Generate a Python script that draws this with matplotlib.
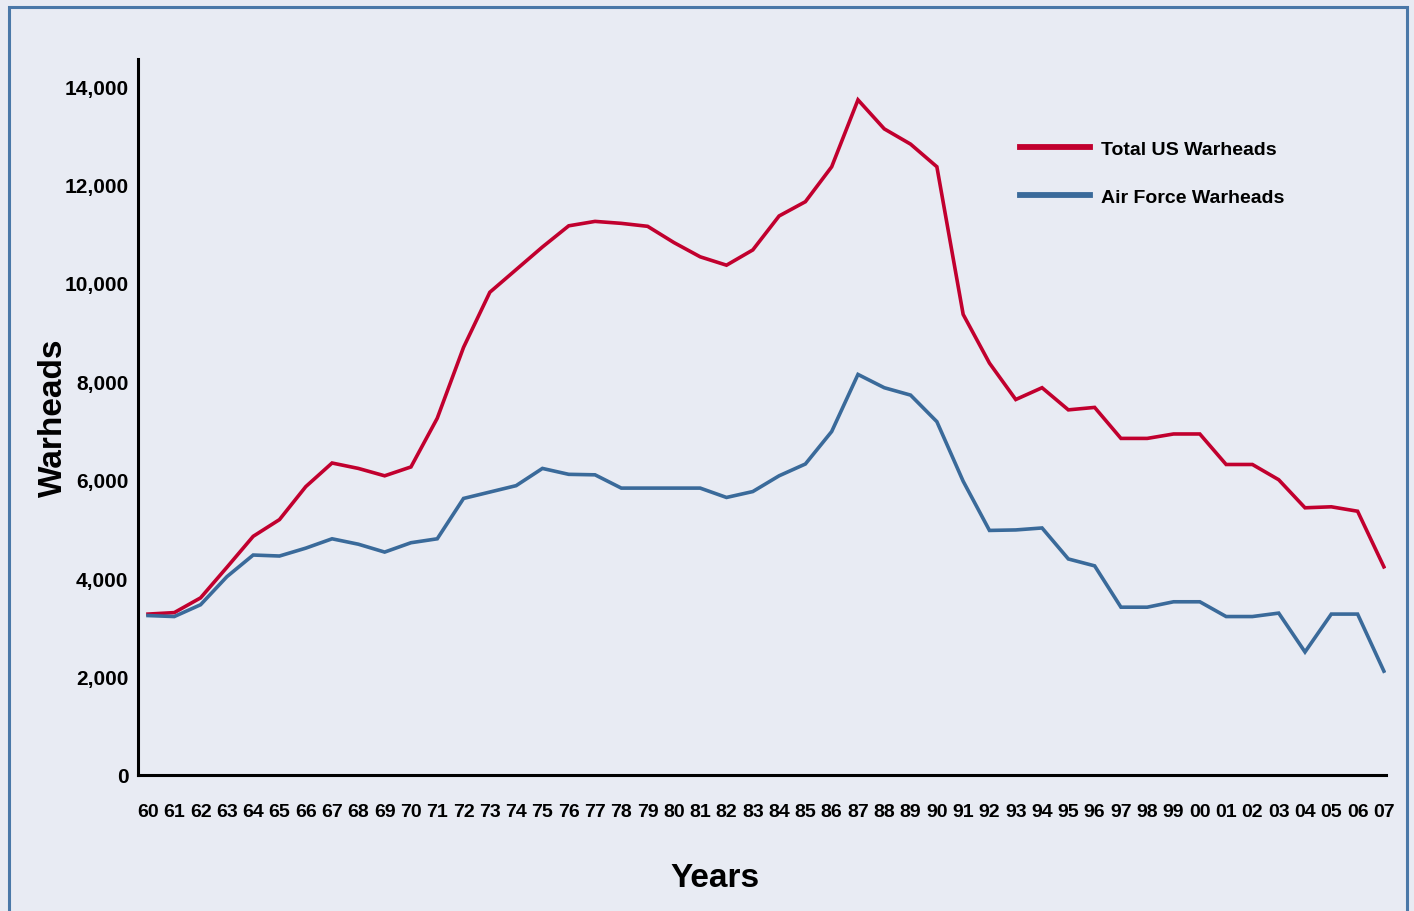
import numpy as np
import matplotlib.pyplot as plt
from matplotlib.patches import Rectangle

############ data ##################################################################

years = ['60', '61', '62', '63', '64', '65', '66', '67', '68', '69',
         '70', '71', '72', '73', '74', '75', '76', '77', '78', '79',
         '80', '81', '82', '83', '84', '85', '86', '87', '88', '89',
         '90', '91', '92', '93', '94', '95', '96', '97', '98', '99',
         '00', '01', '02', '03', '04', '05', '06', '07']

total_us = [3270, 3300, 3600, 4220, 4850, 5190, 5860, 6340, 6230, 6080,
            6260, 7250, 8690, 9810, 10270, 10730, 11160, 11250, 11210, 11150,
            10820, 10530, 10360, 10670, 11360, 11650, 12360, 13720, 13130, 12820,
            12360, 9360, 8370, 7630, 7870, 7420, 7470, 6840, 6840, 6930,
            6930, 6310, 6310, 6000, 5430, 5450, 5360, 4230]

air_force = [3240, 3220, 3460, 4030, 4470, 4450, 4610, 4800, 4690, 4530,
             4720, 4800, 5620, 5750, 5880, 6230, 6110, 6100, 5830, 5830,
             5830, 5830, 5640, 5760, 6080, 6320, 6980, 8140, 7870, 7720,
             7180, 5970, 4970, 4980, 5020, 4390, 4250, 3410, 3410, 3520,
             3520, 3220, 3220, 3290, 2500, 3270, 3270, 2110]

yticks = [0, 2000, 4000, 6000, 8000, 10000, 12000, 14000]

############ plot ##################################################################

bg = '#e8ebf3'
red = '#c1002e'
blue = '#3a6a9a'

plt.rcParams['font.family'] = ['Liberation Sans Narrow', 'Liberation Sans', 'DejaVu Sans']
plt.rcParams['font.weight'] = 'bold'

fig = plt.figure(figsize=(14.14, 9.12), dpi=100, facecolor=bg)
ax = fig.add_axes([138/1414, 1 - 776/912, 1248/1414, 716/912])
ax.set_facecolor(bg)

x = np.arange(len(years))
ax.plot(x, total_us, color=red, lw=2.6, label='Total US Warheads', solid_joinstyle='miter')
ax.plot(x, air_force, color=blue, lw=2.6, label='Air Force Warheads', solid_joinstyle='miter')

ax.set_xlim(-0.38, len(years) - 1 + 0.08)
ax.set_ylim(0, 14550)

ax.set_xticks(x)
ax.set_xticklabels(years)
ax.set_yticks(yticks)
ax.set_yticklabels(['{:,}'.format(v) for v in yticks])
ax.tick_params(axis='x', length=0, pad=20, labelsize=14)
ax.tick_params(axis='y', length=0, pad=7, labelsize=15)
for lab in ax.get_xticklabels() + ax.get_yticklabels():
    lab.set_fontweight('bold')

for s in ['top', 'right']:
    ax.spines[s].set_visible(False)
ax.spines['left'].set_linewidth(2.2)
ax.spines['bottom'].set_linewidth(2.2)

ax.set_ylabel('Warheads', fontsize=24, fontweight='bold', labelpad=0)
ax.yaxis.set_label_coords(-0.055, 0.5)
ax.set_xlabel('Years', fontsize=24, fontweight='bold')
ax.xaxis.set_label_coords(0.462, -0.121)

leg = ax.legend(loc='upper left', bbox_to_anchor=(0.7067, 0.887), frameon=False,
                fontsize=14, handlelength=3.6, handletextpad=0.57, labelspacing=1.6,
                borderpad=0, borderaxespad=0)
for h in leg.get_lines():
    h.set_linewidth(4.2)
for t in leg.get_texts():
    t.set_fontweight('bold')

# blue frame around the panel
fig.patches.append(Rectangle((9/1414, -0.05), 1398/1414, 1.05 - 8/912,
                             transform=fig.transFigure, fill=False,
                             edgecolor='#4a78a8', lw=2.2))

fig.savefig('out.png', dpi=100, facecolor=bg)
